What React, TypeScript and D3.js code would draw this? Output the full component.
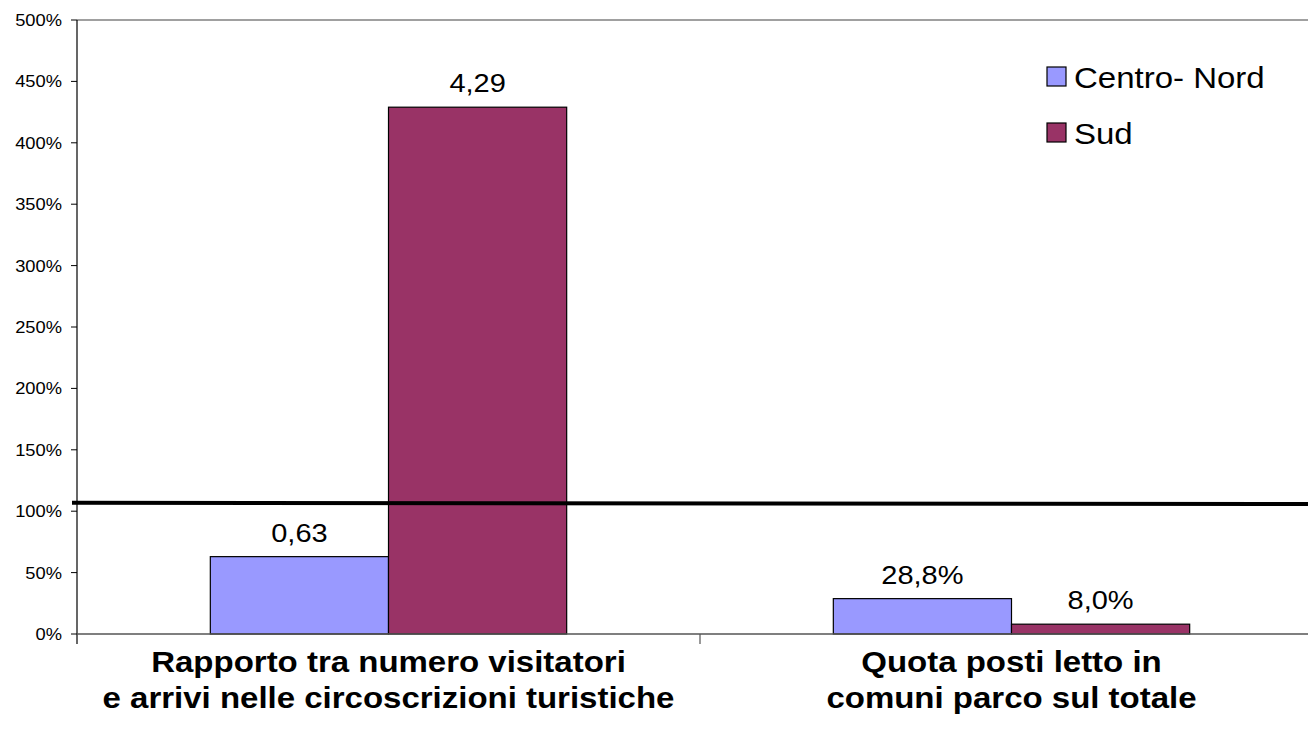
import { useEffect, useRef } from "react";
import * as d3 from "d3";

const categories = [
  ["Rapporto tra numero visitatori", "e arrivi nelle circoscrizioni turistiche"],
  ["Quota posti letto in", "comuni parco sul totale"],
];
const seriesNames = ["Centro- Nord", "Sud"];
const centroNord = [63, 28.8];
const sud = [429, 8.0];
const valueLabels = [
  ["0,63", "28,8%"],
  ["4,29", "8,0%"],
];
const yTicks = [0, 50, 100, 150, 200, 250, 300, 350, 400, 450, 500];
const referenceLine = [106.8, 105.8];
const colors = ["#9999FF", "#993366"];

export default function App() {
  const svgRef = useRef<SVGSVGElement>(null);

  useEffect(() => {
    if (!svgRef.current) return;
    const svg = d3.select(svgRef.current);
    svg.selectAll("*").remove();

    const width = 1308;
    const margin = { top: 20, left: 77, bottom: 634 };
    const plotRight = 1323;

    const x = d3
      .scaleBand<number>()
      .domain([0, 1])
      .range([margin.left, plotRight]);

    const y = d3.scaleLinear().domain([0, 500]).range([margin.bottom, margin.top]);

    const barW = x.bandwidth() * 0.286;
    const font = "Liberation Sans, Arial, sans-serif";

    // text helper: the source chart is slightly stretched horizontally
    const addText = (
      tx: number,
      ty: number,
      str: string,
      size: number,
      sx: number,
      anchor: string,
      bold = false
    ) =>
      svg
        .append("text")
        .attr("transform", `translate(${tx},${ty}) scale(${sx},1)`)
        .attr("text-anchor", anchor)
        .attr("font-family", font)
        .attr("font-size", size)
        .attr("font-weight", bold ? "bold" : "normal")
        .attr("fill", "#000")
        .text(str);

    // top border
    svg
      .append("line")
      .attr("x1", margin.left)
      .attr("x2", width)
      .attr("y1", y(500))
      .attr("y2", y(500))
      .attr("stroke", "#808080")
      .attr("stroke-width", 1.5);

    // y axis
    svg
      .append("line")
      .attr("x1", margin.left)
      .attr("x2", margin.left)
      .attr("y1", y(500))
      .attr("y2", margin.bottom + 10)
      .attr("stroke", "#000")
      .attr("stroke-width", 1.2);

    yTicks.forEach((t) => {
      svg
        .append("line")
        .attr("x1", margin.left - 6)
        .attr("x2", margin.left)
        .attr("y1", y(t))
        .attr("y2", y(t))
        .attr("stroke", "#000");
      addText(margin.left - 15, y(t) + 6, `${t}%`, 16.5, 1.11, "end");
    });

    // bars
    const series = [centroNord, sud];
    series.forEach((vals, s) => {
      vals.forEach((v, i) => {
        const cx = x(i)! + x.bandwidth() / 2;
        const bx = s === 0 ? cx - barW : cx;
        svg
          .append("rect")
          .attr("x", bx)
          .attr("y", y(v))
          .attr("width", barW)
          .attr("height", y(0) - y(v))
          .attr("fill", colors[s])
          .attr("stroke", "#000")
          .attr("stroke-width", 1.2);
        addText(bx + barW / 2, y(v) - 15, valueLabels[s][i], 25, 1.16, "middle");
      });
    });

    // baseline
    svg
      .append("line")
      .attr("x1", margin.left)
      .attr("x2", width)
      .attr("y1", y(0))
      .attr("y2", y(0))
      .attr("stroke", "#555")
      .attr("stroke-width", 1.5);

    // category tick
    svg
      .append("line")
      .attr("x1", x(1)!)
      .attr("x2", x(1)!)
      .attr("y1", y(0))
      .attr("y2", y(0) + 10)
      .attr("stroke", "#555")
      .attr("stroke-width", 1.2);

    // category labels
    categories.forEach((lines, i) => {
      const cx = x(i)! + x.bandwidth() / 2;
      lines.forEach((l, j) => {
        addText(cx, 672 + j * 36, l, 30, 1.1, "middle", true);
      });
    });

    // reference line
    svg
      .append("line")
      .attr("x1", margin.left - 5)
      .attr("x2", width)
      .attr("y1", y(referenceLine[0]))
      .attr("y2", y(referenceLine[1]))
      .attr("stroke", "#000")
      .attr("stroke-width", 4);

    // legend
    seriesNames.forEach((name, s) => {
      const ly = 67 + s * 56;
      svg
        .append("rect")
        .attr("x", 1047)
        .attr("y", ly)
        .attr("width", 19)
        .attr("height", 19)
        .attr("fill", colors[s])
        .attr("stroke", "#000")
        .attr("stroke-width", 1.2);
      addText(1074, ly + 21, name, 30, 1.1, "start");
    });
  }, []);

  return (
    <svg
      ref={svgRef}
      width={1308}
      height={740}
      style={{ position: "absolute", left: 0, top: 0, background: "#fff" }}
    />
  );
}
